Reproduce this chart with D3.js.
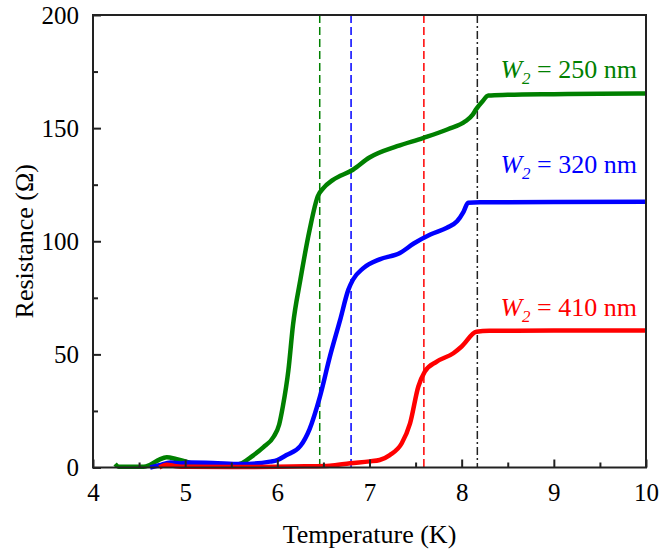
<!DOCTYPE html>
<html>
<head>
<meta charset="utf-8">
<style> body { margin: 0; background: #fff; } </style>
<script src="https://d3js.org/d3.v7.min.js"></script>
</head>
<body>
<div id="chart"></div>
<script>
// series
const greenT = [4.24, 4.28, 4.55, 4.62, 4.72, 4.80, 4.90, 5.02, 5.10, 5.20, 5.50, 5.62, 5.72, 5.85, 5.96, 6.02, 6.06, 6.12, 6.17, 6.25, 6.35, 6.44, 6.50, 6.60, 6.82, 7.00, 7.30, 7.58, 7.85, 8.04, 8.12, 8.16, 8.22, 8.29, 8.50, 9.00, 9.50, 10.0];
const greenR = [1.5, 0.3, 0.3, 1.2, 3.5, 4.5, 3.8, 2.5, 1.3, 0.8, 0.8, 2.0, 4.8, 9, 13.6, 19, 27, 43, 63, 83, 105, 120, 123.5, 127, 131.6, 137, 142, 145.6, 149.5, 153, 156, 158.5, 161.5, 164.4, 164.7, 165, 165.2, 165.3];

const blueT = [4.62, 4.72, 4.84, 4.95, 5.05, 5.30, 5.60, 5.92, 6.00, 6.10, 6.25, 6.35, 6.46, 6.57, 6.68, 6.77, 6.82, 6.93, 7.11, 7.33, 7.48, 7.66, 7.84, 7.95, 8.02, 8.07, 8.20, 9.00, 10.0];
const blueR = [0, 1, 2.2, 1.8, 2.2, 2.0, 1.5, 2.6, 3.3, 5.5, 9.5, 17, 31, 49, 65, 78.5, 83, 88, 92, 94.8, 99, 103, 106, 108.8, 113, 117, 117.2, 117.3, 117.5];

const redT = [4.72, 4.80, 4.90, 5.00, 5.50, 6.00, 6.30, 6.57, 6.79, 7.00, 7.11, 7.22, 7.35, 7.44, 7.53, 7.60, 7.73, 7.91, 8.00, 8.16, 8.30, 9.00, 10.0];
const redR = [0, 1.2, 0.6, 0.3, 0.2, 0.3, 0.5, 0.8, 1.9, 2.7, 3.3, 5.5, 10.7, 19.5, 35.8, 42.4, 46.8, 50.5, 53.5, 60, 60.4, 60.5, 60.6];

const seriesNames = ["250", "320", "410"];
const seriesColors = ["#008000", "#0000ff", "#ff0000"];
const labelY = [165, 123, 60];   // resistance at which each label sits (above its plateau)
const markerT = [6.46, 6.80, 7.59]; // dashed lines
const onsetT = 8.17;               // dash-dot line

const xTicks = [4, 5, 6, 7, 8, 9, 10];
const yTicks = [0, 50, 100, 150, 200];

const W = 660, H = 550;
const margin = {left: 93, top: 15, right: 14, bottom: 82.5};
const iw = W - margin.left - margin.right;
const ih = H - margin.top - margin.bottom;
const serif = '"Liberation Serif"';

const svg = d3.select("#chart").append("svg")
    .attr("width", W).attr("height", H);
const g = svg.append("g").attr("transform", `translate(${margin.left},${margin.top})`);

const x = d3.scaleLinear().domain([4, 10]).range([0, iw]);
const y = d3.scaleLinear().domain([0, 200]).range([ih, 0]);

// vertical marker lines
g.selectAll(".marker").data(markerT).enter().append("line")
    .attr("x1", d => x(d)).attr("x2", d => x(d))
    .attr("y1", 0).attr("y2", ih)
    .attr("stroke", (d, i) => seriesColors[i])
    .attr("stroke-width", 1.5)
    .attr("stroke-dasharray", "8,4");
g.append("line")
    .attr("x1", x(onsetT)).attr("x2", x(onsetT))
    .attr("y1", 0).attr("y2", ih)
    .attr("stroke", "#222").attr("stroke-width", 1.5)
    .attr("stroke-dasharray", "8,3,2,3");

// curves
const line = d3.line().x(d => x(d[0])).y(d => y(d[1])).curve(d3.curveMonotoneX);
const series = [d3.zip(greenT, greenR), d3.zip(blueT, blueR), d3.zip(redT, redR)];
g.selectAll(".curve").data(series).enter().append("path")
    .attr("d", line)
    .attr("fill", "none")
    .attr("stroke", (d, i) => seriesColors[i])
    .attr("stroke-width", 4.5)
    .attr("stroke-linejoin", "round");

// frame
g.append("rect").attr("width", iw).attr("height", ih)
    .attr("fill", "none").attr("stroke", "#222").attr("stroke-width", 2);

// axes with inward ticks
const xMajor = d3.axisBottom(x).tickValues(xTicks).tickSize(-8).tickPadding(16).tickFormat(d3.format("d"));
const xMinor = d3.axisBottom(x).tickValues(d3.range(4.5, 10, 1)).tickSize(-5).tickFormat("");
const yMajor = d3.axisLeft(y).tickValues(yTicks).tickSize(-8).tickPadding(14).tickFormat(d3.format("d"));
const yMinor = d3.axisLeft(y).tickValues(d3.range(25, 200, 50)).tickSize(-5).tickFormat("");

[g.append("g").attr("transform", `translate(0,${ih})`).call(xMajor),
 g.append("g").attr("transform", `translate(0,${ih})`).call(xMinor),
 g.append("g").call(yMajor),
 g.append("g").call(yMinor)].forEach(a => {
    a.select(".domain").remove();
    a.selectAll("line").attr("stroke", "#222").attr("stroke-width", 2);
    a.selectAll("text")
        .style("font-family", serif).style("font-size", "25px")
        .attr("fill", "#000");
});

// axis titles
svg.append("text")
    .attr("x", margin.left + iw / 2).attr("y", 543)
    .attr("text-anchor", "middle")
    .style("font-family", serif).style("font-size", "26px")
    .text("Temperature (K)");
svg.append("text")
    .attr("transform", `translate(33,${margin.top + ih / 2}) rotate(-90)`)
    .attr("text-anchor", "middle")
    .style("font-family", serif).style("font-size", "26px")
    .text("Resistance (Ω)");

// series labels
seriesNames.forEach((name, i) => {
    const t = g.append("text")
        .attr("x", iw - 9).attr("y", y(labelY[i]) - 16)
        .attr("text-anchor", "end")
        .style("font-family", serif).style("font-size", "26px")
        .attr("fill", seriesColors[i]);
    t.append("tspan").style("font-style", "italic").text("W");
    t.append("tspan").style("font-style", "italic").style("font-size", "17px").attr("dy", 6).text("2");
    t.append("tspan").attr("dy", -6).text(` = ${name} nm`);
});
</script>
</body>
</html>
